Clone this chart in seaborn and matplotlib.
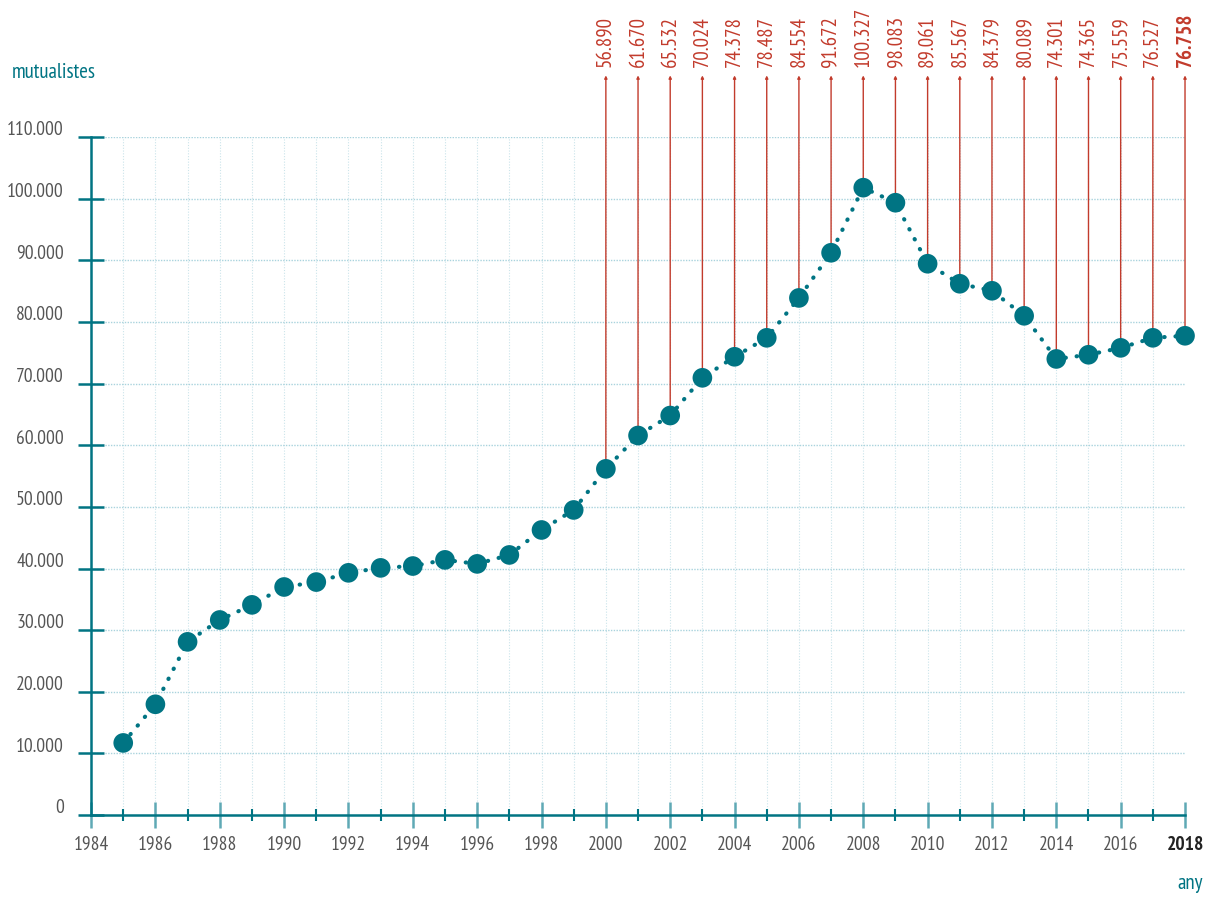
import matplotlib
matplotlib.use("Agg")
import matplotlib.pyplot as plt
import matplotlib.transforms as mtransforms
from matplotlib import font_manager
import pandas as pd
import seaborn as sns

# data
years = list(range(1985, 2019))
members = [11700, 17970, 28100, 31650, 34100, 37000, 37800, 39300, 40100, 40400,
           41400, 40750, 42200, 46250, 49500, 56170, 61580, 64820, 70940, 74350,
           77430, 83900, 91230, 101790, 99350, 89450, 86200, 85060, 81000, 74000,
           74680, 75800, 77430, 77760]
label_years = list(range(2000, 2019))
label_texts = ["56.890", "61.670", "65.532", "70.024", "74.378", "78.487", "84.554",
               "91.672", "100.327", "98.083", "89.061", "85.567", "84.379", "80.089",
               "74.301", "74.365", "75.559", "76.527", "76.758"]
y_ticks = [0, 10000, 20000, 30000, 40000, 50000, 60000, 70000, 80000, 90000, 100000, 110000]
y_tick_labels = ["0", "10.000", "20.000", "30.000", "40.000", "50.000", "60.000",
                 "70.000", "80.000", "90.000", "100.000", "110.000"]
x_ticks = [1984, 1986, 1988, 1990, 1992, 1994, 1996, 1998, 2000, 2002, 2004, 2006,
           2008, 2010, 2012, 2014, 2016, 2018]
x_tick_labels = [str(y) for y in x_ticks]

TEAL = "#007483"
TICK_LIGHT = "#5fa9b5"
RED = "#c23b2c"
GRAY = "#555555"
GRID = "#a9d3dd"

sns.set_style("white")

# pick a narrow font if one is around, else fall back to DejaVu with smaller sizes
installed = {f.name for f in font_manager.fontManager.ttflist}
narrow = ["PT Sans Narrow", "Fira Sans Condensed", "Roboto Condensed",
          "Open Sans Condensed", "Archivo Narrow", "Liberation Sans Narrow"]
found = [n for n in narrow if n in installed]
if found:
    plt.rcParams["font.family"] = [found[0], "DejaVu Sans"]
    FS = 14
else:
    plt.rcParams["font.family"] = ["DejaVu Sans"]
    FS = 10.5

df = pd.DataFrame({"year": years, "members": members})

fig = plt.figure(figsize=(12.06, 9.03), dpi=100)
ax = fig.add_axes([0.0755, 0.0963, 0.9071, 0.7508])

# grid
for yv in y_ticks[1:]:
    ax.axhline(yv, color=GRID, lw=1, ls=(0, (1, 1)), zorder=0)
for xv in range(1985, 2018):
    ax.axvline(xv, color=GRID, lw=0.8, ls=(0, (1, 1.5)), alpha=0.6, zorder=0)

# red leader lines + labels
label_vals = df.set_index("year").loc[label_years, "members"].tolist()
for yr, val, txt in zip(label_years, label_vals, label_texts):
    ax.annotate("", xy=(yr, 120000), xytext=(yr, val), xycoords="data",
                arrowprops=dict(arrowstyle="-|>", color=RED, lw=1, mutation_scale=4,
                                shrinkA=0, shrinkB=0),
                annotation_clip=False, zorder=2)
    ax.text(yr, 121600, txt, rotation=90, ha="center", va="bottom", color=RED,
            fontsize=FS + 1, fontweight="bold" if yr == 2018 else "normal", clip_on=False)

sns.lineplot(data=df, x="year", y="members", ax=ax, color=TEAL, lw=3,
             linestyle=(0, (0.1, 2.6)), zorder=3)
ax.lines[-1].set_dash_capstyle("round")
sns.scatterplot(data=df, x="year", y="members", ax=ax, color=TEAL, s=200,
                edgecolor="none", zorder=4, clip_on=False)

ax.set_xlim(1984, 2018)
ax.set_ylim(0, 110000)

for side in ["top", "right"]:
    ax.spines[side].set_visible(False)
for side in ["left", "bottom"]:
    ax.spines[side].set_color(TEAL)
    ax.spines[side].set_linewidth(1.8)

ax.set_yticks(y_ticks)
ax.set_yticklabels(y_tick_labels)
ax.tick_params(axis="y", left=True, direction="inout", length=19, width=1.8, color=TEAL,
               labelcolor=GRAY, labelsize=FS, pad=10)
offset = mtransforms.ScaledTranslation(0, 7 / 72, fig.dpi_scale_trans)
for lab in ax.get_yticklabels():
    lab.set_transform(lab.get_transform() + offset)

ax.set_xticks(x_ticks)
ax.set_xticklabels(x_tick_labels)
ax.set_xticks(list(range(1985, 2018, 2)), minor=True)
ax.tick_params(axis="x", which="major", bottom=True, direction="inout", length=19,
               width=1.8, color=TICK_LIGHT, labelcolor=GRAY, labelsize=FS, pad=5)
ax.tick_params(axis="x", which="minor", bottom=True, direction="inout", length=8,
               width=1.5, color=TEAL)
last = ax.get_xticklabels()[-1]
last.set_fontweight("bold")
last.set_color("#222222")

ax.set_xlabel("")
ax.set_ylabel("")
fig.text(0.01, 0.92, "mutualistes", color=TEAL, fontsize=FS + 1, ha="left", va="center")
fig.text(0.997, 0.011, "any", color=TEAL, fontsize=FS + 1, ha="right", va="bottom")

fig.savefig("out.png", dpi=100)
